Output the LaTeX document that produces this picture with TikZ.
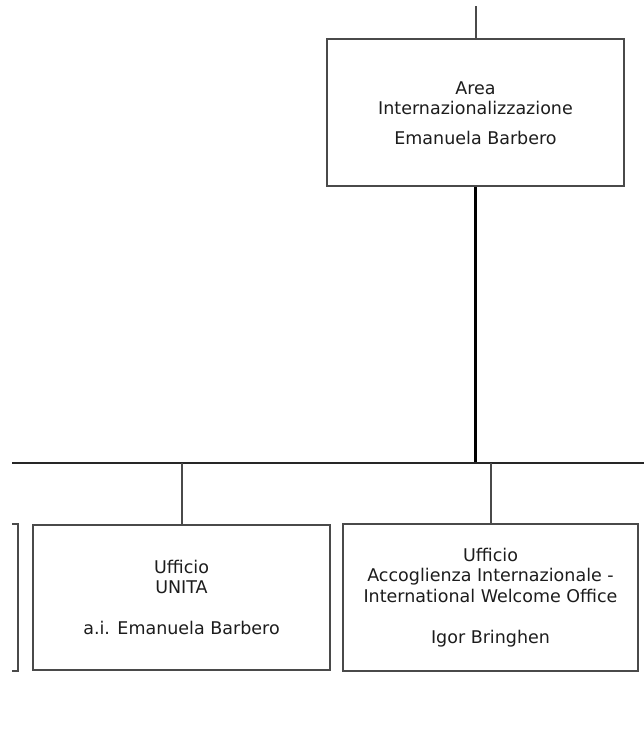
\documentclass[tikz,border=0pt]{standalone}
\usepackage{fontspec}
\setmainfont{DejaVu Sans}
\usetikzlibrary{positioning}
\definecolor{boxgray}{HTML}{4A4A4A}
\definecolor{txtgray}{HTML}{1C1C1C}

\begin{document}
\begin{tikzpicture}[
    x=1pt, y=1pt,
    block/.style={rectangle, draw=boxgray, line width=2pt, minimum height=147pt, minimum width=297pt, align=center, text=txtgray, font=\fontsize{17.5}{20.5}\selectfont, inner sep=0pt},
    link/.style={draw=boxgray, line width=2pt},
    node distance=1cm and 2cm
]
    \useasboundingbox (0,0) rectangle (644,-743);
    \clip (12,0) rectangle (644,-743);

    % Blocks
    \node[block] (area) at (475.5,-113) {Area\\Internazionalizzazione\\[9.5pt]Emanuela Barbero};
    \node[block, minimum height=145pt] (unita) at (181.5,-597.5) {Ufficio\\UNITA\\[20.5pt]a.i. Emanuela Barbero};
    \node[block, minimum width=295pt, right=11pt of unita] (welcome) {Ufficio\\Accoglienza Internazionale -\\International Welcome Office\\[20.5pt]Igor Bringhen};
    \node[block, left=13pt of unita] (prev) {};

    % Lines
    \coordinate (top) at (475.5,-6);
    \coordinate (busL) at (12,-463);
    \coordinate (busR) at (644,-463);
    \draw[link] (area.north) -- (top);
    \draw[line width=3.5pt] (area.south) -- (area.south |- busL);
    \draw[line width=2.5pt, draw=black!85] (busL) -- (busR);
    \draw[link] (unita.north) -- (unita.north |- busL);
    \draw[link] (welcome.north) -- (welcome.north |- busL);

\end{tikzpicture}
\end{document}
